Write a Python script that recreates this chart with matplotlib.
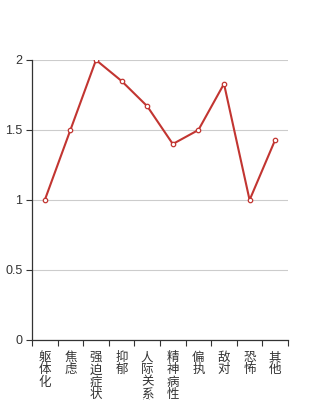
import matplotlib
matplotlib.use("Agg")
import matplotlib.pyplot as plt
import numpy as np

plt.rcParams['font.family'] = ['Noto Sans CJK SC', 'DejaVu Sans']

categories = ['躯体化', '焦虑', '强迫症状', '抑郁', '人际关系敏感', '精神病性', '偏执', '敌对', '恐怖', '其他']
values = [1, 1.5, 2, 1.85, 1.67, 1.4, 1.5, 1.83, 1, 1.43]
yticks = [0, 0.5, 1, 1.5, 2]
ytick_labels = ['0', '0.5', '1', '1.5', '2']

fig = plt.figure(figsize=(3.2, 4), dpi=100)
ax = fig.add_axes([0.1, 0.15, 0.8, 0.7])

x = np.arange(len(categories))
ax.plot(x, values, color='#c23531', lw=1.5, marker='o', markersize=3.2,
        markerfacecolor='white', markeredgecolor='#c23531', markeredgewidth=0.9, zorder=3)

ax.set_xlim(-0.5, len(categories) - 0.5)
ax.set_ylim(0, 2)
ax.set_yticks(yticks)
ax.set_yticklabels(ytick_labels, family=['Liberation Sans', 'DejaVu Sans'])
ax.grid(axis='y', color='#cccccc', lw=0.8)
ax.set_axisbelow(True)

ax.set_xticks(x)
ax.set_xticklabels(['\n'.join(c) for c in categories], linespacing=0.92)
ax.set_xticks(np.arange(-0.5, len(categories)), minor=True)
ax.tick_params(axis='x', which='major', length=0, pad=8, labelsize=9, colors='#333333')
ax.tick_params(axis='x', which='minor', length=4, width=0.8, color='#333333')
ax.tick_params(axis='y', length=4, width=0.8, color='#333333', labelsize=9, labelcolor='#333333', pad=3)
for lab in ax.get_xticklabels():
    lab.set_verticalalignment('top')

for s in ['top', 'right']:
    ax.spines[s].set_visible(False)
for s in ['left', 'bottom']:
    ax.spines[s].set_color('#333333')
    ax.spines[s].set_linewidth(0.9)

fig.savefig('out.png', dpi=100)
